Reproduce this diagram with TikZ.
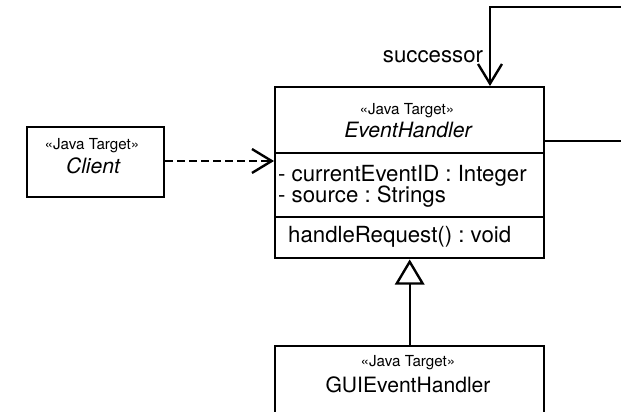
\documentclass[tikz,border=0pt]{standalone}
\usepackage{fontspec}
\setmainfont{TeX Gyre Heros}
\usetikzlibrary{arrows.meta}
\frenchspacing

\begin{document}
\begin{tikzpicture}[x=0.025cm,y=-0.025cm,line width=1.7pt,
  classbox/.style={draw,rectangle,inner sep=0pt,anchor=north west},
  stereo/.style={font=\fontsize{10.8}{12}\selectfont,anchor=base,inner sep=0pt},
  cname/.style={font=\fontsize{15}{18}\selectfont,anchor=base,inner sep=0pt},
  member/.style={font=\fontsize{15.8}{19}\selectfont,anchor=base west,inner sep=0pt},
  navarrow/.style={-{Straight Barb[length=14pt,width=17pt,line width=1.7pt]}},
  inherits/.style={-{Triangle[open,fill=white,length=18pt,width=21pt,line width=1.7pt]}}]
\useasboundingbox(0,0)rectangle(621,412);
\clip(0,0)rectangle(621,412);
% class boxes
\node[classbox,minimum width=137*0.025cm,minimum height=70*0.025cm](client)at(26,126){};
\node[classbox,minimum width=269*0.025cm,minimum height=171*0.025cm](eh)at(274,86){};
\node[classbox,minimum width=269*0.025cm,minimum height=90*0.025cm](gui)at(274,345){};
% compartments
\draw(274,153)coordinate(ehA)--(543,153)coordinate(ehB);
\draw(274,217)coordinate(ehC)--(543,217)coordinate(ehD);
% texts
\node[stereo](clientst)at(92,150){«Java Target»};
\node[cname,font=\fontsize{15}{18}\selectfont\itshape](clientnm)at(93,174){Client};
\node[stereo](ehst)at(407,115){«Java Target»};
\node[cname,font=\fontsize{15}{18}\selectfont\itshape](ehnm)at(408,138){EventHandler};
\node[member](attrA)at(277,182){- currentEventID : Integer};
\node[member](attrB)at(277,203){- source : Strings};
\node[member](opA)at(287,243){handleRequest() : void};
\node[stereo](guist)at(408,367){«Java Target»};
\node[cname](guinm)at(408,393){GUIEventHandler};
\node[member,anchor=base](succ)at(433,63){successor};
% connectors
\coordinate(loopA)at(640,141);
\coordinate(loopB)at(640,7);
\draw[dashed,dash pattern=on 5.7pt off 2.8pt,navarrow](client.east|-0,161)--(eh.west|-0,161);
\draw[navarrow](eh.east|-0,141)--(loopA)--(loopB)--(490,7)--(eh.north-|490,0);
\draw[inherits](gui.north)--(eh.south);
\end{tikzpicture}
\end{document}
